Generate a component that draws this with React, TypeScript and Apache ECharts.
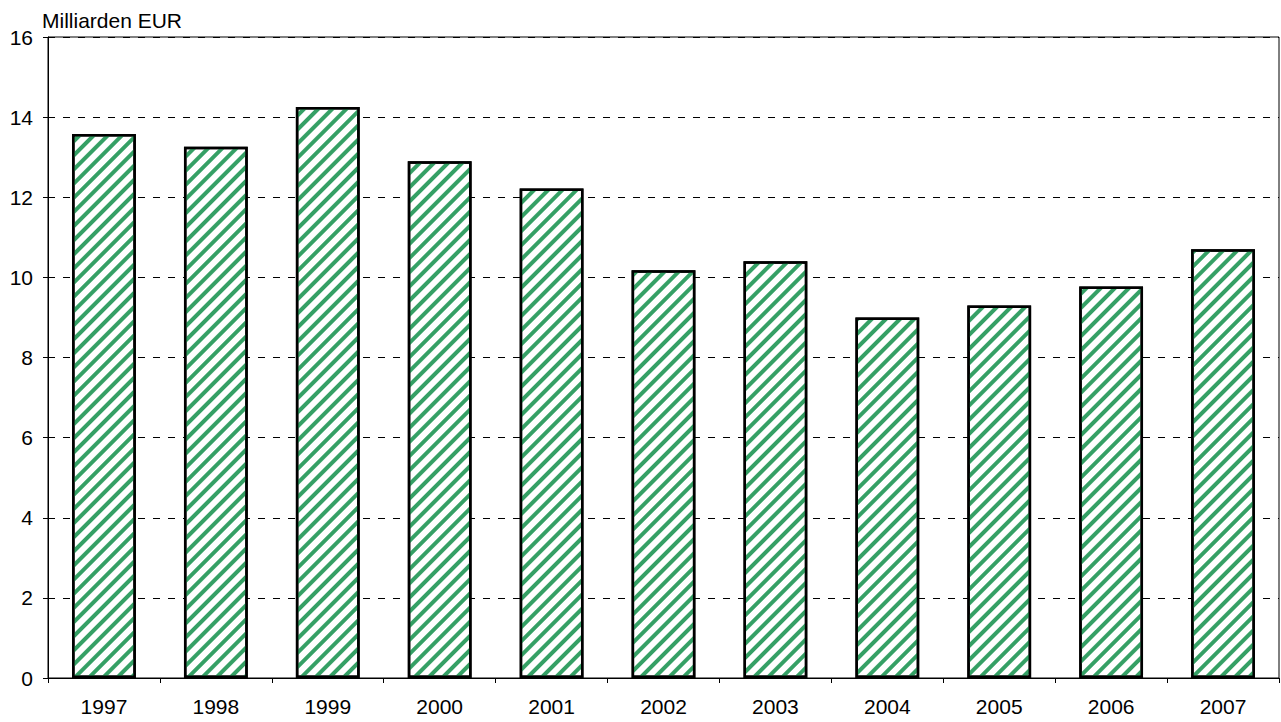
import React, { useEffect, useRef } from "react";
import * as echarts from "echarts";

const years = ["1997", "1998", "1999", "2000", "2001", "2002", "2003", "2004", "2005", "2006", "2007"];
const values = [13.58, 13.26, 14.25, 12.9, 12.22, 10.18, 10.4, 9.0, 9.3, 9.77, 10.7];
const yMin = 0;
const yMax = 16;
const yStep = 2;
const unitLabel = "Milliarden EUR";

export default function App() {
  const ref = useRef<HTMLDivElement>(null);
  useEffect(() => {
    if (!ref.current) return;
    const chart = echarts.init(ref.current, null, { renderer: "svg" });
    const font = "'Liberation Sans', Arial, sans-serif";
    chart.setOption({
      animation: false,
      backgroundColor: "#ffffff",
      textStyle: { fontFamily: font },
      grid: {
        left: 48,
        right: 2,
        top: 37,
        bottom: 44,
        show: true,
        borderColor: "#000",
        borderWidth: 1,
        backgroundColor: "transparent",
      },
      graphic: [
        {
          type: "text",
          left: 42,
          top: 10,
          style: { text: unitLabel, fontSize: 21, fill: "#000", fontFamily: font },
        },
      ],
      xAxis: {
        type: "category",
        data: years,
        axisLine: { lineStyle: { color: "#000", width: 1 } },
        axisTick: { show: true, length: 5, lineStyle: { color: "#000" } },
        axisLabel: { color: "#000", fontSize: 21, margin: 18, fontFamily: font },
      },
      yAxis: {
        type: "value",
        min: yMin,
        max: yMax,
        interval: yStep,
        axisLine: { show: true, lineStyle: { color: "#000", width: 1 } },
        axisTick: { show: true, length: 5, lineStyle: { color: "#000" } },
        axisLabel: { color: "#000", fontSize: 21, margin: 15, fontFamily: font },
        splitLine: { show: true, lineStyle: { color: "#000", type: [7, 8], width: 1 } },
      },
      series: [
        {
          type: "bar",
          data: values,
          barCategoryGap: "43%",
          itemStyle: {
            color: "#ffffff",
            borderColor: "#000",
            borderWidth: 2.5,
            decal: {
              symbol: "rect",
              symbolSize: 1,
              dashArrayX: [1, 0],
              dashArrayY: [3.5, 5.5],
              rotation: -Math.PI / 4,
              color: "#35a065",
            },
          },
        },
      ],
    });
    return () => chart.dispose();
  }, []);
  return <div ref={ref} style={{ position: "fixed", left: 0, top: 0, width: 1281, height: 722 }} />;
}
